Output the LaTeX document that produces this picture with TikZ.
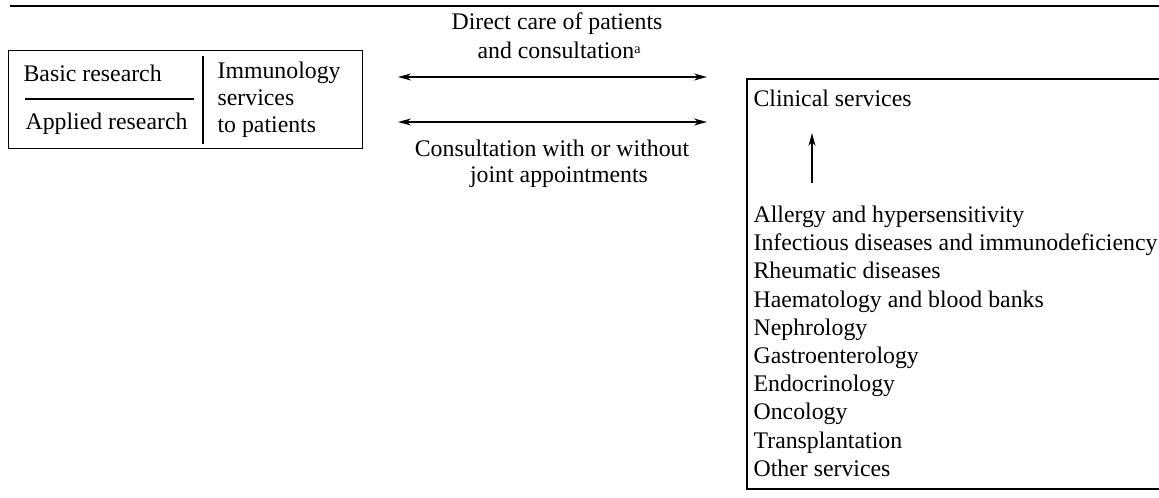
\documentclass[tikz,border=0pt]{standalone}
\usepackage{fontspec}
\setmainfont{Liberation Serif}
\usetikzlibrary{arrows.meta}

\begin{document}
\begin{tikzpicture}[x=0.5pt,y=-0.5pt,line width=0.6pt,>={Stealth[length=6.5pt,width=3.5pt]}]
  \tikzstyle{txt}=[inner sep=0pt, anchor=base west, font=\fontsize{11.9}{14}\selectfont]
  \tikzstyle{frame}=[draw, inner sep=0pt, anchor=north west]
  \useasboundingbox (0,0) rectangle (1159,497);

  % top rule
  \coordinate (T_1) at (10,6);
  \coordinate (T_2) at (1159,6);
  \draw[line width=0.9pt] (T_1) -- (T_2);

  % research / services box
  \node[frame, minimum width=177pt, minimum height=49pt] (L) at (8,50) {};
  \node[txt] (L_1) at (23,82)  {Basic research};
  \node[txt] (L_2) at (25,130) {Applied research};
  \node[txt] (L_3) at (217,79)  {Immunology};
  \node[txt] (L_4) at (217,106) {services};
  \node[txt] (L_5) at (217,133) {to patients};
  \coordinate (D_1) at (25,99);
  \coordinate (D_2) at (194,99);
  \coordinate (D_3) at (203,56);
  \coordinate (D_4) at (203,144);
  \draw (D_1) -- (D_2);
  \draw (D_3) -- (D_4);

  % links
  \node[txt, anchor=base] (M_1) at (557,30) {Direct care of patients};
  \node[txt] (M_2) at (477,59) {and consultation\raisebox{2.5pt}{\fontsize{7}{8}\selectfont a}};
  \node[txt, anchor=base] (M_3) at (552,157) {Consultation with or without};
  \node[txt, anchor=base] (M_4) at (559,183) {joint appointments};
  \coordinate (A_1) at (398,77);
  \coordinate (A_2) at (707,77);
  \coordinate (A_3) at (398,122);
  \coordinate (A_4) at (707,122);
  \draw[<->] (A_1) -- (A_2);
  \draw[<->] (A_3) -- (A_4);

  % clinical box
  \coordinate (R_1) at (1159,79);
  \coordinate (R_2) at (747,79);
  \coordinate (R_3) at (747,489);
  \coordinate (R_4) at (1159,489);
  \draw (R_1) -- (R_2) -- (R_3) -- (R_4);
  \node[txt] (C) at (753,107) {Clinical services};
  \coordinate (C_1) at (812,183);
  \coordinate (C_2) at (812,133);
  \draw[->] (C_1) -- (C_2);

  \node[txt] (S_1)  at (753,222) {Allergy and hypersensitivity};
  \node[txt] (S_2)  at (753,250) {Infectious diseases and immunodeficiency};
  \node[txt] (S_3)  at (753,278) {Rheumatic diseases};
  \node[txt] (S_4)  at (753,307) {Haematology and blood banks};
  \node[txt] (S_5)  at (753,335) {Nephrology};
  \node[txt] (S_6)  at (753,363) {Gastroenterology};
  \node[txt] (S_7)  at (753,391) {Endocrinology};
  \node[txt] (S_8)  at (753,419) {Oncology};
  \node[txt] (S_9)  at (753,448) {Transplantation};
  \node[txt] (S_10) at (753,476) {Other services};
\end{tikzpicture}
\end{document}
